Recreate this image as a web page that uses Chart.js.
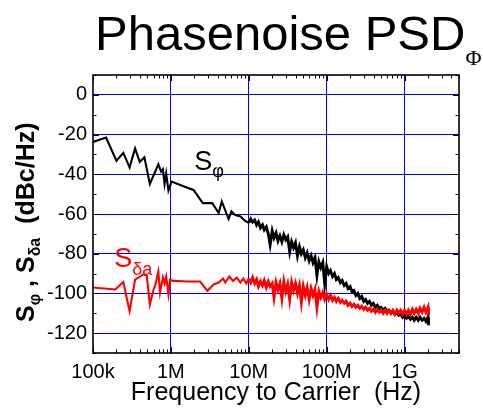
<!DOCTYPE html>
<html>
<head>
<meta charset="utf-8">
<script src="https://cdn.jsdelivr.net/npm/chart.js@4.4.1/dist/chart.umd.min.js"></script>
<style>
  html, body { margin: 0; padding: 0; background: #fff; }
  canvas { display: block; }
</style>
</head>
<body>
<canvas id="psdChart" width="483" height="412"></canvas>
<script>
const xTicks = [1e5, 1e6, 1e7, 1e8, 1e9];
const xTickLabels = ['100k', '1M', '10M', '100M', '1G'];
const yTicks = [-120, -100, -80, -60, -40, -20, 0];

// S_phi below 10 MHz (sparse part, read point by point)
const phiLowFreq = [1.0e5, 1.47e5, 2.0e5, 2.45e5, 2.95e5, 3.47e5, 3.98e5, 4.57e5, 5.37e5, 6.9e5,
  7.5e5, 7.9e5, 8.3e5, 8.7e5, 9.3e5, 1.02e6, 1.45e6, 1.95e6, 2.57e6, 3.4e6,
  4.1e6, 4.5e6, 5.5e6, 6.0e6, 6.6e6, 7.8e6, 9.0e6];
const phiLowDb = [-23.7, -21.5, -33.2, -29.2, -36.5, -27, -33.7, -31.5, -44.9, -35,
  -38.7, -37.5, -44.9, -39.5, -48.2, -43.7, -46, -47.9, -54.5, -54.5,
  -59.5, -53.7, -62.5, -58.7, -60.4, -61.2, -63.5];

// S_delta_a below 10 MHz
const ampLowFreq = [1.0e5, 1.93e5, 2.45e5, 2.95e5, 3.47e5, 4.47e5, 4.9e5, 5.37e5, 6.0e5, 6.3e5,
  6.9e5, 7.25e5, 7.9e5, 8.3e5, 8.7e5, 9.3e5, 9.8e5, 1.07e6, 1.62e6, 2.37e6,
  2.95e6, 3.55e6, 4.1e6, 4.68e6, 5.0e6, 5.6e6, 6.3e6, 7.0e6, 7.8e6, 8.5e6, 9.3e6];
const ampLowDb = [-97, -98, -94.2, -109, -93, -90.4, -91, -105.5, -98, -96,
  -89, -99.5, -92, -95, -91.5, -100.5, -93, -93.7, -94, -94,
  -98.7, -95.4, -94.5, -92.5, -94.5, -91.5, -93.7, -92, -94.5, -92.5, -95];

// shared frequency grid of the noisy part, 10 MHz .. 2 GHz
const denseFreq = [
  1.00e7, 1.06e7, 1.12e7, 1.19e7, 1.26e7, 1.33e7, 1.41e7, 1.50e7, 1.58e7, 1.68e7,
  1.78e7, 1.88e7, 2.00e7, 2.11e7, 2.24e7, 2.37e7, 2.51e7, 2.66e7, 2.82e7, 2.99e7,
  3.16e7, 3.35e7, 3.55e7, 3.76e7, 3.98e7, 4.22e7, 4.47e7, 4.73e7, 5.01e7, 5.31e7,
  5.62e7, 5.96e7, 6.31e7, 6.68e7, 7.08e7, 7.50e7, 7.94e7, 8.41e7, 8.91e7, 9.44e7,
  1.00e8, 1.06e8, 1.12e8, 1.19e8, 1.26e8, 1.33e8, 1.41e8, 1.50e8, 1.58e8, 1.68e8,
  1.78e8, 1.88e8, 2.00e8, 2.11e8, 2.24e8, 2.37e8, 2.51e8, 2.66e8, 2.82e8, 2.99e8,
  3.16e8, 3.35e8, 3.55e8, 3.76e8, 3.98e8, 4.22e8, 4.47e8, 4.73e8, 5.01e8, 5.31e8,
  5.62e8, 5.96e8, 6.31e8, 6.68e8, 7.08e8, 7.50e8, 7.94e8, 8.41e8, 8.91e8, 9.44e8,
  1.00e9, 1.06e9, 1.12e9, 1.19e9, 1.26e9, 1.33e9, 1.41e9, 1.50e9, 1.58e9, 1.68e9,
  1.78e9, 1.88e9, 2.00e9, 2.02e9, 2.04e9];

const phiDenseDb = [
  -64.5, -62.5, -64, -63, -65.5, -64, -67, -65.5, -68, -66.5,
  -70, -75.5, -68.5, -72, -69.5, -73.5, -71, -74, -70.5, -73,
  -71.5, -79, -74, -77, -74.5, -81, -76.5, -80, -78, -82,
  -79.5, -83.5, -81, -84.5, -82, -91, -84, -87, -84.5, -95,
  -86.5, -90, -88.5, -91.5, -90, -93, -92, -94.5, -93.5, -96,
  -95, -97.5, -96.5, -99, -98.5, -101, -100, -102.5, -101.5, -104,
  -103, -105, -104, -106, -105, -107, -106, -107.5, -107, -108.5,
  -107.5, -109, -108.5, -110, -109, -110.5, -109.5, -111, -110.5, -112,
  -111, -112.5, -111.5, -113, -112, -113.5, -112, -113.5, -112, -113.5,
  -112.5, -114, -112, -116, -114.5];

const ampDenseDb = [
  -92.5, -94.5, -92, -95, -93, -96.5, -94, -96, -93.5, -97,
  -94, -96.5, -95, -102, -94.5, -98, -95, -102.5, -94, -99,
  -95.5, -103, -94.5, -98.5, -95, -100, -96, -104.5, -96.5, -101,
  -97, -103, -97.5, -101, -98, -107, -99, -102, -99.5, -103,
  -100.5, -103, -101, -103.5, -102, -104, -102.5, -104.5, -103.5, -105,
  -104, -106, -105, -106.5, -105.5, -107, -106, -107.5, -106.5, -108,
  -107, -108.5, -107.5, -109, -108, -109.5, -108, -109.5, -108.5, -110,
  -108.5, -110, -108.5, -110, -108.5, -110.5, -108.5, -110, -108.5, -110.5,
  -108.5, -110.5, -108.5, -110.5, -108, -110, -108, -110, -107.5, -109.5,
  -107, -109.5, -107, -111, -109.5];

function toPoints(freqs, dbs) {
  return freqs.map((f, i) => ({ x: f, y: dbs[i] }));
}

const phiPoints = toPoints(phiLowFreq, phiLowDb).concat(toPoints(denseFreq, phiDenseDb));
const ampPoints = toPoints(ampLowFreq, ampLowDb).concat(toPoints(denseFreq, ampDenseDb));

// the noisy part above 10 MHz is drawn a bit heavier so it reads as a band
const noisyWidth = c => (c.p0.parsed.x >= 1e7 ? 2.9 : 2.1);

const SANS = "'Liberation Sans', Arial, sans-serif";
const SERIF = "'Liberation Serif', 'Times New Roman', serif";

function drawRuns(ctx, runs, x, y) {
  let cx = x;
  runs.forEach(r => {
    ctx.font = r.font;
    ctx.fillText(r.text, cx, y + (r.dy || 0));
    cx += ctx.measureText(r.text).width;
  });
  return cx;
}

const decorations = {
  id: 'decorations',
  afterDatasetsDraw(chart) {
    const { ctx, chartArea: a, scales: { x, y } } = chart;
    ctx.save();

    // inward ticks on all four sides
    ctx.strokeStyle = '#000';
    ctx.lineWidth = 1;
    ctx.beginPath();
    for (let d = 5; d <= 9; d++) {
      for (let m = 1; m <= 9; m++) {
        const v = m * Math.pow(10, d);
        if (v > x.max) break;
        const px = Math.round(x.getPixelForValue(v)) + 0.5;
        const len = m === 1 ? 6 : 3.5;
        ctx.moveTo(px, a.bottom); ctx.lineTo(px, a.bottom - len);
        ctx.moveTo(px, a.top); ctx.lineTo(px, a.top + len);
      }
    }
    for (let v = -130; v <= 10; v += 10) {
      const py = Math.round(y.getPixelForValue(v)) + 0.5;
      const len = v % 20 === 0 ? 6 : 3.5;
      ctx.moveTo(a.left, py); ctx.lineTo(a.left + len, py);
      ctx.moveTo(a.right, py); ctx.lineTo(a.right - len, py);
    }
    ctx.stroke();

    ctx.lineWidth = 1.6;
    ctx.strokeRect(a.left, a.top, a.right - a.left, a.bottom - a.top);

    // title
    ctx.fillStyle = '#000';
    ctx.textAlign = 'left';
    ctx.textBaseline = 'alphabetic';
    drawRuns(ctx, [
      { text: 'Phasenoise PSD', font: '49px ' + SANS },
      { text: '\u03A6', font: '22px ' + SERIF, dy: 15 }
    ], 95, 50);

    // x axis title
    ctx.font = '25px ' + SANS;
    ctx.textAlign = 'center';
    ctx.fillText('Frequency to Carrier  (Hz)', (a.left + a.right) / 2, 400);

    // y axis title, rotated
    ctx.save();
    ctx.translate(34, 322);
    ctx.rotate(-Math.PI / 2);
    ctx.textAlign = 'left';
    drawRuns(ctx, [
      { text: 'S', font: 'bold 25px ' + SANS },
      { text: '\u03C6', font: 'bold 16px ' + SANS, dy: 6 },
      { text: ' , ', font: 'bold 25px ' + SANS },
      { text: 'S', font: 'bold 25px ' + SANS },
      { text: '\u03B4a', font: 'bold 16px ' + SANS, dy: 6 },
      { text: '  (dBc/Hz)', font: 'bold 25px ' + SANS }
    ], 0, 0);
    ctx.restore();

    // series labels
    ctx.textAlign = 'left';
    ctx.fillStyle = '#000';
    drawRuns(ctx, [
      { text: 'S', font: '27px ' + SANS },
      { text: '\u03C6', font: '18px ' + SANS, dy: 7 }
    ], x.getPixelForValue(2.0e6), y.getPixelForValue(-37.8));
    ctx.fillStyle = '#ff0000';
    drawRuns(ctx, [
      { text: 'S', font: '27px ' + SANS },
      { text: '\u03B4a', font: '18px ' + SANS, dy: 8 }
    ], x.getPixelForValue(1.87e5), y.getPixelForValue(-86.8));

    ctx.restore();
  }
};

new Chart(document.getElementById('psdChart'), {
  type: 'line',
  data: {
    datasets: [
      {
        label: 'S_da',
        data: ampPoints,
        borderColor: '#ff0000',
        borderWidth: 2.1,
        segment: { borderWidth: noisyWidth },
        pointRadius: 0,
        tension: 0,
        order: 0
      },
      {
        label: 'S_phi',
        data: phiPoints,
        borderColor: '#000000',
        borderWidth: 2.1,
        segment: { borderWidth: noisyWidth },
        pointRadius: 0,
        tension: 0,
        order: 1
      }
    ]
  },
  options: {
    responsive: false,
    animation: false,
    devicePixelRatio: 1,
    layout: { padding: { left: 0, top: 75, right: 24, bottom: 0 } },
    plugins: {
      legend: { display: false },
      tooltip: { enabled: false }
    },
    scales: {
      x: {
        type: 'logarithmic',
        min: 1e5,
        max: 5e9,
        afterBuildTicks: s => { s.ticks = xTicks.map(v => ({ value: v })); },
        afterFit: s => { s.height = 59; },
        border: { display: false },
        grid: {
          drawTicks: false,
          lineWidth: 1,
          color: c => (c.tick && c.tick.value === 1e5) ? 'rgba(0,0,0,0)' : '#0000ff'
        },
        ticks: {
          color: '#000',
          font: { family: SANS, size: 20 },
          padding: 7,
          maxRotation: 0,
          minRotation: 0,
          autoSkip: false,
          callback: v => xTickLabels[xTicks.indexOf(v)]
        }
      },
      y: {
        min: -130,
        max: 10,
        afterBuildTicks: s => { s.ticks = yTicks.map(v => ({ value: v })); },
        afterFit: s => { s.width = 93; },
        border: { display: false },
        grid: { drawTicks: false, lineWidth: 1, color: '#0000ff' },
        ticks: {
          color: '#000',
          font: { family: SANS, size: 20 },
          padding: 6,
          callback: v => String(v)
        }
      }
    }
  },
  plugins: [decorations]
});
</script>
</body>
</html>
